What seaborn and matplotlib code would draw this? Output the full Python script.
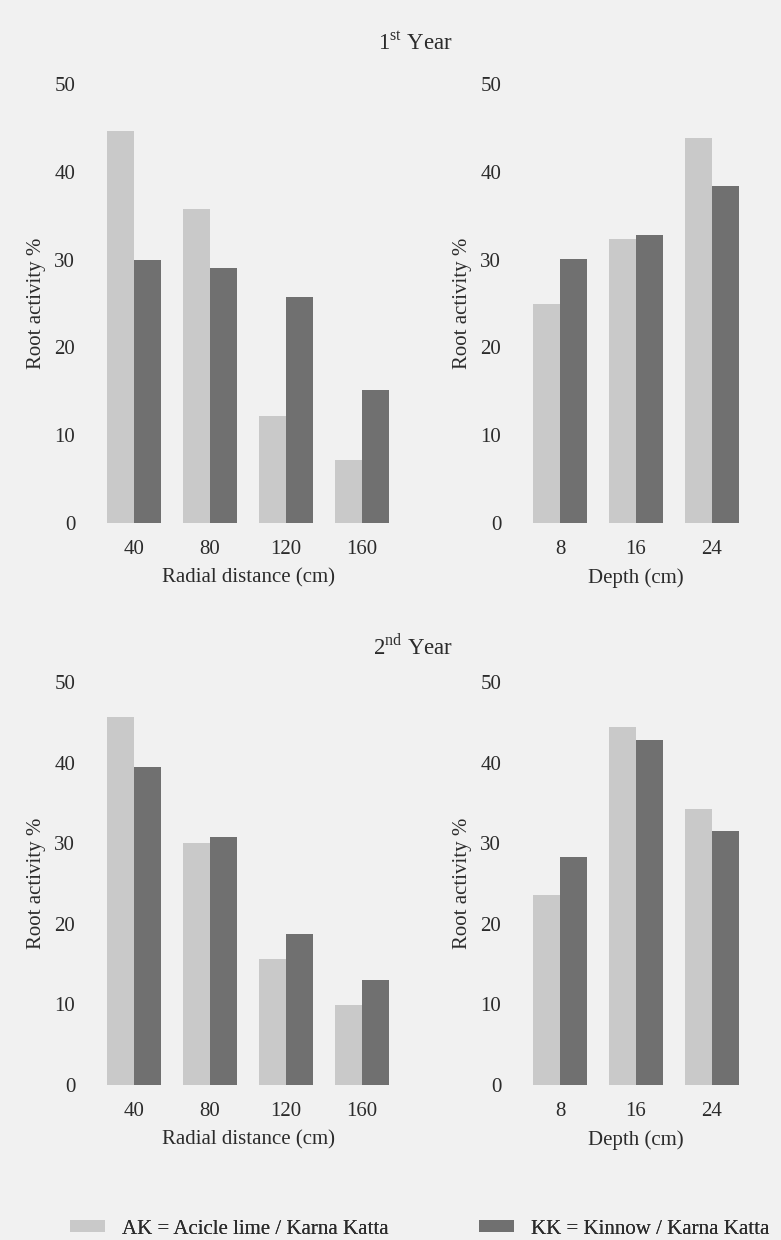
import matplotlib
matplotlib.use("Agg")
import matplotlib.pyplot as plt
import matplotlib.patches as mpatches
import seaborn as sns
import pandas as pd

# root activity (%)
radial_cats = ["40", "80", "120", "160"]
depth_cats = ["8", "16", "24"]

y1_radial_ak = [44.7, 35.8, 12.2, 7.2]
y1_radial_kk = [29.9, 29.0, 25.7, 15.2]
y1_depth_ak = [24.9, 32.3, 43.8]
y1_depth_kk = [30.1, 32.8, 38.4]

y2_radial_ak = [45.6, 30.0, 15.6, 9.9]
y2_radial_kk = [39.5, 30.8, 18.7, 13.0]
y2_depth_ak = [23.6, 44.4, 34.3]
y2_depth_kk = [28.3, 42.8, 31.5]

groups = ["AK", "KK"]
colors = {"AK": "#c9c9c9", "KK": "#707070"}
legend_labels = ["AK = Acicle lime / Karna Katta", "KK = Kinnow / Karna Katta"]

BG = "#f1f1f1"
TXT = "#2b2b2b"
FS = 15

sns.set_style("white")
plt.rcParams["font.family"] = ["Liberation Serif", "DejaVu Serif"]
plt.rcParams["mathtext.fontset"] = "custom"
plt.rcParams["mathtext.rm"] = "Liberation Serif"
plt.rcParams["text.color"] = TXT
plt.rcParams["axes.labelcolor"] = TXT
plt.rcParams["xtick.color"] = TXT
plt.rcParams["ytick.color"] = TXT


def make_df(cats, ak, kk):
    return pd.DataFrame({
        "cat": cats + cats,
        "grp": ["AK"] * len(cats) + ["KK"] * len(cats),
        "val": ak + kk,
    })


def draw_panel(ax, cats, ak, kk, xlabel):
    df = make_df(cats, ak, kk)
    sns.barplot(data=df, x="cat", y="val", hue="grp", hue_order=groups,
                order=cats, palette=colors, width=0.71, gap=0,
                saturation=1, linewidth=0, legend=False, ax=ax)
    ax.set_ylim(0, 50)
    ax.set_yticks([0, 10, 20, 30, 40, 50])
    ax.set_xlabel(xlabel, fontsize=FS, labelpad=7)
    ax.set_ylabel("Root activity %", fontsize=FS, labelpad=6)
    ax.tick_params(axis="both", length=0, labelsize=FS)
    ax.tick_params(axis="x", pad=12)
    ax.tick_params(axis="y", pad=15)
    ax.set_facecolor("none")
    sns.despine(ax=ax, left=True, bottom=True)


fig = plt.figure(figsize=(7.81, 12.40), dpi=100, facecolor=BG)

W, H = 781.0, 1240.0


def add_ax(x0, x1, y0, y1):
    return fig.add_axes([x0 / W, 1 - y1 / H, (x1 - x0) / W, (y1 - y0) / H])


ax1 = add_ax(96, 400, 84, 523)
ax2 = add_ax(522, 750, 84, 523)
ax3 = add_ax(96, 400, 682, 1085)
ax4 = add_ax(522, 750, 682, 1085)

draw_panel(ax1, radial_cats, y1_radial_ak, y1_radial_kk, "Radial distance (cm)")
draw_panel(ax2, depth_cats, y1_depth_ak, y1_depth_kk, "Depth (cm)")
draw_panel(ax3, radial_cats, y2_radial_ak, y2_radial_kk, "Radial distance (cm)")
draw_panel(ax4, depth_cats, y2_depth_ak, y2_depth_kk, "Depth (cm)")

fig.text(453 / W, 1 - 44 / H, r"1$^{\mathrm{st}}$ Year", fontsize=16.5,
         ha="right", va="center")
fig.text(453 / W, 1 - 646 / H, r"2$^{\mathrm{nd}}$ Year", fontsize=16.5,
         ha="right", va="center")

# legend at the bottom
for i, (g, anchor_x) in enumerate(zip(groups, [70, 479])):
    handle = mpatches.Patch(color=colors[g], linewidth=0)
    leg = fig.legend([handle], [legend_labels[i]], loc="center left",
                     bbox_to_anchor=(anchor_x / W, 1 - 1229 / H),
                     frameon=False, fontsize=FS, handlelength=1.7,
                     handleheight=0.55, handletextpad=0.8,
                     borderpad=0, borderaxespad=0)
    fig.add_artist(leg)

fig.savefig("out.png", dpi=100, facecolor=BG)
